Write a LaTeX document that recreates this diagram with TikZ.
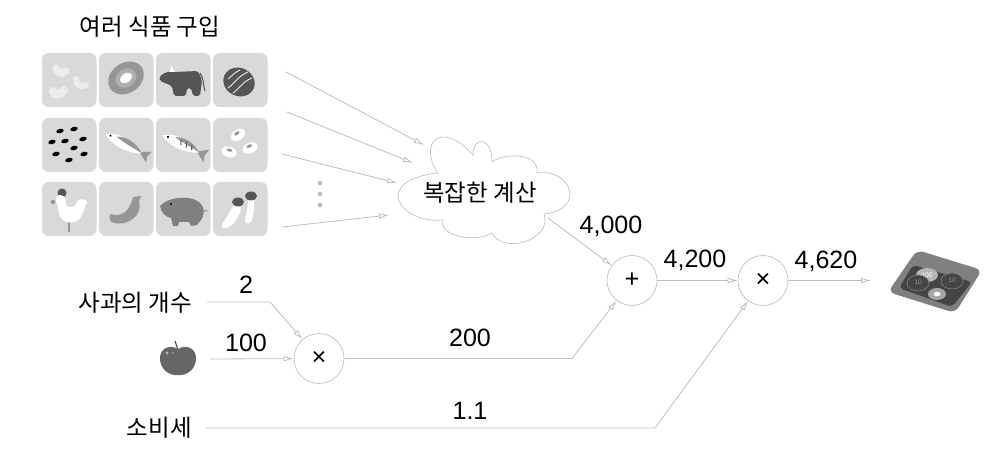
\documentclass[tikz,border=0pt]{standalone}
\usepackage{fontspec}
\setmainfont{Liberation Sans}
\newfontfamily\kofont{Noto Sans CJK KR}
\usepackage{xcolor}
\usetikzlibrary{arrows.meta}
\definecolor{wiregray}{RGB}{190, 190, 190}
\definecolor{tilegray}{RGB}{217, 217, 217}
\definecolor{midgray}{RGB}{150, 150, 150}
\definecolor{darkgray}{RGB}{85, 85, 85}
\tikzset{
  wire/.style={draw=wiregray, line width=0.6pt, -{Latex[open,length=7.5pt,width=4.2pt]}},
  opnode/.style={circle, draw=wiregray, line width=0.5pt, fill=white, minimum size=37.5pt, inner sep=0pt, font=\fontsize{19}{19}\selectfont},
  numlabel/.style={font=\fontsize{18.8}{20}\selectfont, inner sep=0pt},
  kolabel/.style={font=\kofont\fontsize{17.6}{19}\selectfont, inner sep=0pt},
  tile/.style={fill=tilegray, rounded corners=5pt},
  bean/.style={fill=white, draw=white!85!black, line width=0.2pt},
  coinlabel/.style={font=\fontsize{5}{5}\selectfont, inner sep=0pt}
}
\begin{document}
\begin{tikzpicture}[x=0.75pt, y=-0.75pt]
  \useasboundingbox (0,0) rectangle (994,473);
  % Food tiles
  \foreach \tx in {42,99,156,213}
    \foreach \ty in {53,118,182}
      \fill[tile] (\tx,\ty) rectangle ++(54.5,54);
  % Cashews
  \draw[white!93!black, line width=5.5pt, line cap=round] (56,68) .. controls (56,73) and (62,75) .. (66,71);
  \draw[white!93!black, line width=4.5pt, line cap=round] (76,79) .. controls (76,85) and (81,88) .. (86,85);
  \draw[white!93!black, line width=6pt, line cap=round] (53,91) .. controls (54,96) and (61,96) .. (64,90);
  % Kiwi
  \fill[midgray, rotate around={35:(126,78)}] (126,78) ellipse [x radius=19, y radius=15];
  \fill[tilegray!80!black, rotate around={35:(126,78)}] (126,78) ellipse [x radius=11, y radius=9];
  \fill[white, rotate around={35:(126,78)}] (126,78) ellipse [x radius=6.5, y radius=4.5];
  % Cow
  \fill[darkgray, rounded corners=1.5pt] (159,77) -- (166,72) -- (174,72) -- (198,71) -- (202,80) -- (200,96) -- (193,96) -- (191,88) -- (187,88) -- (186,96) -- (174,96) -- (172,86) -- (165,83) -- (160,81) -- cycle;
  \draw[darkgray, line width=0.8pt] (200,73) .. controls (204,78) and (203,86) .. (205,91);
  \fill[white] (170,72) -- (171,65) -- (175,72) -- cycle;
  % Walnut
  \fill[darkgray, rotate around={-25:(239,82)}] (239,82) ellipse [x radius=16, y radius=14];
  \draw[tilegray, line width=0.8pt] (228,88) .. controls (234,84) and (238,76) .. (248,72);
  \draw[tilegray, line width=0.8pt] (233,93) .. controls (240,88) and (242,82) .. (252,78);
  \draw[tilegray, line width=0.8pt] (228,79) .. controls (232,76) and (235,72) .. (240,70);
  % Black seeds
  \foreach \sx/\sy in {60/131,74/129,52/142,65/141,83/139,74/148,56/154,84/154,69/160}
    \fill[black, rotate around={15:(\sx,\sy)}] (\sx,\sy) ellipse [x radius=3.8, y radius=2.2];
  % Striped fish
  \begin{scope}[shift={(126,145)}, rotate=-28]
    \fill[midgray] (15,0) -- (26,-6) -- (24,0) -- (26,6) -- cycle;
    \fill[white] (-23,0) .. controls (-12,-9) and (8,-7) .. (18,0) .. controls (8,6) and (-12,8) .. (-23,0) -- cycle;
    \fill[midgray] (-12,-3) .. controls (-4,-8) and (8,-7) .. (18,0) .. controls (6,-1) and (-4,-1) .. (-12,-3) -- cycle;
    \fill[black] (-18,-1) circle [radius=1.2];
  \end{scope}
  % Mackerel
  \begin{scope}[shift={(183,145)}, rotate=-25]
    \fill[midgray] (15,0) -- (26,-7) -- (24,0) -- (26,7) -- cycle;
    \fill[white] (-23,0) .. controls (-12,-9) and (8,-7) .. (18,0) .. controls (8,6) and (-12,8) .. (-23,0) -- cycle;
    \fill[midgray] (-10,-4) .. controls (-2,-8) and (8,-7) .. (18,0) .. controls (6,-2) and (-4,-2) .. (-10,-4) -- cycle;
    \foreach \sx in {-4,2,8}
      \draw[darkgray, line width=0.8pt] (\sx,-4) -- (\sx+2,1);
    \fill[black] (-17,-1) circle [radius=1.2];
  \end{scope}
  % White beans
  \foreach \bx/\by/\ba in {238/135/35,229/152/-15,250/148/20} {
    \fill[bean, rotate around={\ba:(\bx,\by)}] (\bx,\by) ellipse [x radius=8, y radius=5.5];
    \fill[midgray, rotate around={\ba:(\bx,\by)}] (\bx,\by-2) ellipse [x radius=3, y radius=1.5];
  }
  % Chicken
  \fill[darkgray] (62,193) circle [radius=4.5];
  \fill[midgray] (53,202) circle [radius=2.2];
  \draw[midgray, line width=0.8pt] (69,222) -- (69,232);
  \fill[white] (56,197) .. controls (62,192) and (67,197) .. (66,205) .. controls (70,210) and (76,207) .. (78,200) .. controls (82,198) and (88,200) .. (87,203) .. controls (84,205) and (85,212) .. (82,214) .. controls (80,224) and (64,226) .. (60,216) .. controls (57,210) and (59,205) .. (56,202) -- cycle;
  % Banana
  \fill[midgray] (111,214) .. controls (122,218) and (130,210) .. (133,197) -- (141,196) -- (139,201) .. controls (143,216) and (128,226) .. (114,223) .. controls (109,222) and (108,216) .. (111,214) -- cycle;
  % Boar
  \draw[midgray, line width=0.7pt] (203,212) .. controls (207,208) and (208,213) .. (207,211);
  \fill[darkgray!75!white] (160,206) .. controls (166,200) and (175,197) .. (188,198) .. controls (200,199) and (206,208) .. (203,216) .. controls (202,221) and (198,222) .. (197,225) -- (191,226) -- (189,222) -- (179,222) -- (178,226) -- (173,226) -- (171,218) .. controls (166,217) and (161,213) .. (160,206) -- cycle;
  \fill[black] (171,204) circle [radius=1.1];
  % Mushrooms
  \fill[white] (222,224) .. controls (228,216) and (231,210) .. (234,204) -- (241,207) .. controls (240,216) and (234,226) .. (226,228) .. controls (222,229) and (221,226) .. (222,224) -- cycle;
  \fill[white] (248,198) -- (254,199) .. controls (254,208) and (254,216) .. (251,222) .. controls (248,225) and (244,223) .. (245,219) .. controls (247,212) and (248,206) .. (248,198) -- cycle;
  \fill[darkgray] (238,202) ellipse [x radius=6, y radius=4.5];
  \fill[darkgray] (251,196) ellipse [x radius=6, y radius=4.5];
  % Titles and cloud
  \node[kolabel] (foods) at (150,27) {여러 식품 구입};
  \draw[draw=wiregray, line width=0.5pt] (438,173) .. controls (418,145) and (440,118) .. (473,155)
    .. controls (473,136) and (492,136) .. (492,162)
    .. controls (503,153) and (540,152) .. (537,173)
    .. controls (572,168) and (586,210) .. (544,214)
    .. controls (553,240) and (503,255) .. (492,233)
    .. controls (480,242) and (438,238) .. (443,220)
    .. controls (398,224) and (372,180) .. (438,173) -- cycle;
  \node[kolabel] (calc) at (480,193) {복잡한 계산};
  % Dots
  \foreach \dy in {183,194,205}
    \fill[wiregray] (320,\dy) circle [radius=2.4];
  % Input ends
  \coordinate (fooda) at (286,72);
  \coordinate (foodb) at (287,112);
  \coordinate (foodc) at (282,154);
  \coordinate (foodd) at (282,227);
  \coordinate (calca) at (424,145);
  \coordinate (calcb) at (413,163);
  \coordinate (calcc) at (397,183);
  \coordinate (calcd) at (389,215);
  \coordinate (calcout) at (548,218);
  \draw[wire] (fooda) -- (calca);
  \draw[wire] (foodb) -- (calcb);
  \draw[wire] (foodc) -- (calcc);
  \draw[wire] (foodd) -- (calcd);
  % Operators
  \node[opnode] (mula) at (319,358.5) {×};
  \node[opnode] (plus) at (632,280.5) {+};
  \node[opnode] (mulb) at (763,280.5) {×};
  % Left labels
  \node[kolabel, anchor=east] (count) at (192,303) {사과의 개수};
  \node[kolabel, anchor=east] (tax) at (192,428) {소비세};
  % Apple
  \draw[darkgray, line width=0.9pt] (178,350) -- (175,341);
  \fill[darkgray!90!white] (178,349) .. controls (186,344) and (197,348) .. (196,360) .. controls (195,370) and (186,376) .. (178,375) .. controls (170,376) and (161,370) .. (160,360) .. controls (159,348) and (170,344) .. (178,349) -- cycle;
  \fill[white!70!black] (167,353) circle [radius=1.6];
  \fill[white!70!black] (173,353) circle [radius=0.9];
  \coordinate (apple) at (210,359);
  % Connectors
  \coordinate (countout) at (207,302);
  \coordinate (countbend) at (270,302);
  \coordinate (taxout) at (205,428);
  \coordinate (taxbend) at (655,428);
  \coordinate (mulabend) at (572,358.5);
  \coordinate (result) at (871,280.5);
  \draw[wire] (countout) -- (countbend) -- (mula);
  \draw[wire] (apple) -- (mula);
  \draw[wire] (mula) -- (mulabend) -- (plus);
  \draw[wire] (calcout) -- (plus);
  \draw[wire] (plus) -- (mulb);
  \draw[wire] (taxout) -- (taxbend) -- (mulb);
  \draw[wire] (mulb) -- (result);
  % Values
  \node[numlabel] (valcount) at (246,285) {2};
  \node[numlabel] (valapple) at (246,343) {100};
  \node[numlabel] (valapples) at (470,338) {200};
  \node[numlabel] (valtax) at (470,411) {1.1};
  \node[numlabel] (valcalc) at (611,226) {4,000};
  \node[numlabel] (valsum) at (695,260) {4,200};
  \node[numlabel] (valtotal) at (826,261) {4,620};
  % Tray
  \fill[midgray!85!black, rounded corners=5pt] (917,250) -- (982,270) -- (955,313) -- (888,292) -- cycle;
  \fill[darkgray!80!black, rounded corners=3pt] (913,265) -- (972,282) -- (952,307) -- (899,288) -- cycle;
  \fill[midgray!70!white] (927,275) ellipse [x radius=11, y radius=7];
  \node[coinlabel, text=white] (coinc) at (927,275) {100};
  \draw[midgray, fill=darkgray!80!black, line width=0.3pt] (918,283) ellipse [x radius=11, y radius=8];
  \node[coinlabel, text=midgray] (coina) at (918,282) {10};
  \draw[midgray, fill=darkgray!80!black, line width=0.3pt] (952,281) ellipse [x radius=11, y radius=8];
  \node[coinlabel, text=midgray] (coinb) at (952,280) {10};
  \fill[white!65!black] (937,294) ellipse [x radius=9, y radius=6];
  \fill[white] (937,294) ellipse [x radius=3.5, y radius=2.2];
\end{tikzpicture}
\end{document}
